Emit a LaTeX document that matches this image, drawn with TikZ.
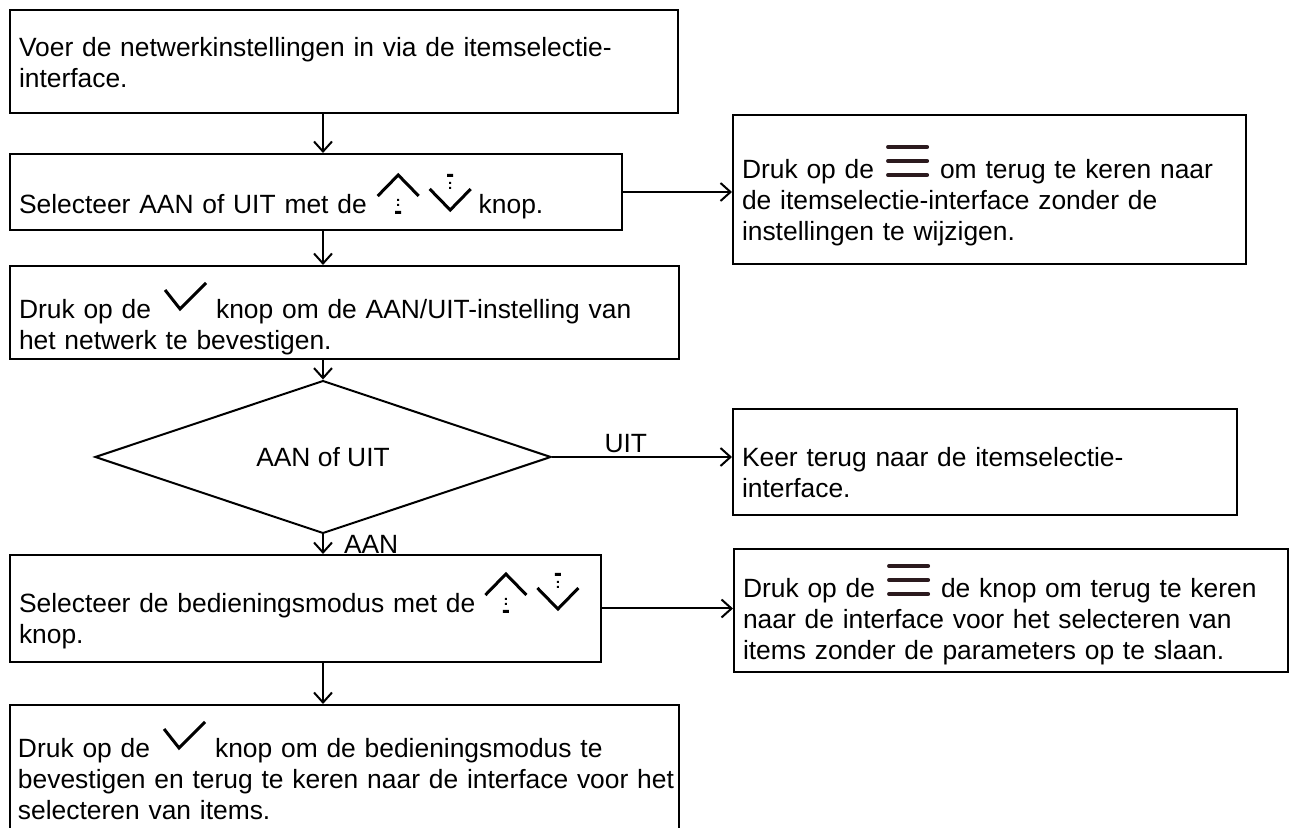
\documentclass[tikz,border=0pt]{standalone}
\usepackage{fontspec}
\setmainfont{Liberation Sans}
\usetikzlibrary{shapes.geometric,arrows.meta}

\definecolor{menubrown}{HTML}{2B1A1E}
\newcommand{\boxfont}{\fontsize{13.2}{15.5}\selectfont}

\newcommand{\upkey}{\tikz[baseline=0pt,x=0.5pt,y=0.5pt,line width=1.5pt]{%
  \useasboundingbox (0,0) rectangle (41,40);
  \draw (0,18) -- (20.5,39) -- (41,18);
  \fill (19.5,13) rectangle (21.5,15) (19.5,8) rectangle (21.5,10) (17.5,0) rectangle (23.5,3);}}
\newcommand{\downkey}{\tikz[baseline=0pt,x=0.5pt,y=0.5pt,line width=1.5pt]{%
  \useasboundingbox (0,0) rectangle (41,40);
  \draw (0,25) -- (20.5,4) -- (41,25);
  \fill (19.5,25) rectangle (21.5,27) (19.5,30) rectangle (21.5,32) (17.5,37) rectangle (23.5,40);}}
\newcommand{\checkkey}{\tikz[baseline=0pt,x=0.5pt,y=0.5pt,line width=1.5pt]{%
  \useasboundingbox (0,0) rectangle (41,36);
  \draw (0,29) -- (15,10) -- (41,36);}}
\newcommand{\menukey}{\tikz[baseline=0pt,x=0.5pt,y=0.5pt]{%
  \useasboundingbox (0,0) rectangle (43,34);
  \draw[menubrown, line width=2pt, line cap=round] (2,4) -- (41,4) (2,18) -- (41,18) (2,32) -- (41,32);}}

\begin{document}
\begin{tikzpicture}[x=0.5pt, y=-0.5pt, >={Straight Barb[length=5pt,width=9pt]},
  box/.style={draw, line width=1pt, anchor=north west, align=left, inner xsep=4.5pt, inner ysep=0pt, font=\boxfont},
  decision/.style={diamond, draw, line width=1pt, minimum width=228pt, minimum height=57pt, inner sep=0pt, font=\boxfont},
  lbl/.style={font=\boxfont, inner sep=0pt}]
  \useasboundingbox (0,0) rectangle (1292,828);

  \node[box, text width=325pt, text height=23.5pt, text depth=28pt] (start) at (9,9)
    {Voer de netwerkinstellingen in via de itemselectie-\\interface.};
  \node[box, text width=297pt, text height=30pt, text depth=8pt] (sel1) at (9,153)
    {Selecteer AAN of UIT met de\hspace{5.5pt}\upkey\hspace{5.5pt}\downkey\hspace{4pt}knop.};
  \node[box, text width=325.5pt, text height=26.5pt, text depth=20pt] (conf1) at (9,265)
    {Druk op de\hspace{7pt}\checkkey\hspace{5pt}knop om de AAN/UIT-instelling van\\het netwerk te bevestigen.};
  \node[decision] (dec) at (323,457) {AAN of UIT};
  \node[box, text width=286.5pt, text height=29pt, text depth=24.5pt] (sel2) at (9,554)
    {Selecteer de bedieningsmodus met de\hspace{5pt}\upkey\hspace{5.5pt}\downkey\\knop.};
  \node[box, inner xsep=4pt, text width=326.5pt, text height=26.5pt, text depth=43.5pt] (conf2) at (9,704)
    {Druk op de\hspace{7pt}\checkkey\hspace{5pt}knop om de bedieningsmodus te\\\mbox{bevestigen en terug te keren naar de interface voor het}\\selecteren van items.};

  \node[box, text width=247.5pt, text height=32pt, text depth=42.5pt] (esc1) at (732,114)
    {Druk op de\hspace{6pt}\menukey\hspace{5.5pt}om terug te keren naar\\de itemselectie-interface zonder de\\instellingen te wijzigen.};
  \node[box, text width=243pt, text height=29pt, text depth=24pt] (back1) at (732,408)
    {Keer terug naar de itemselectie-\\interface.};
  \node[box, text width=268pt, text height=24.5pt, text depth=37pt] (esc2) at (733,548)
    {Druk op de\hspace{6pt}\menukey\hspace{5.5pt}de knop om terug te keren\\naar de interface voor het selecteren van\\items zonder de parameters op te slaan.};

  \draw[->, line width=1pt] (start.south -| dec) -- (sel1.north -| dec);
  \draw[->, line width=1pt] (sel1.south -| dec) -- (conf1.north -| dec);
  \draw[->, line width=1pt] (conf1.south -| dec) -- (dec.north);
  \draw[->, line width=1pt] (dec.east) -- node[lbl, above=1.5pt, pos=0.41] {UIT} (dec.east -| back1.west);
  \draw[->, line width=1pt] (dec.south) -- node[lbl, right=10pt, midway] {AAN} (sel2.north -| dec);
  \draw[->, line width=1pt] (sel2.south -| dec) -- (conf2.north -| dec);
  \draw[->, line width=1pt] (sel1.east) -- (sel1.east -| esc1.west);
  \draw[->, line width=1pt] (sel2.east) -- (sel2.east -| esc2.west);
\end{tikzpicture}
\end{document}
